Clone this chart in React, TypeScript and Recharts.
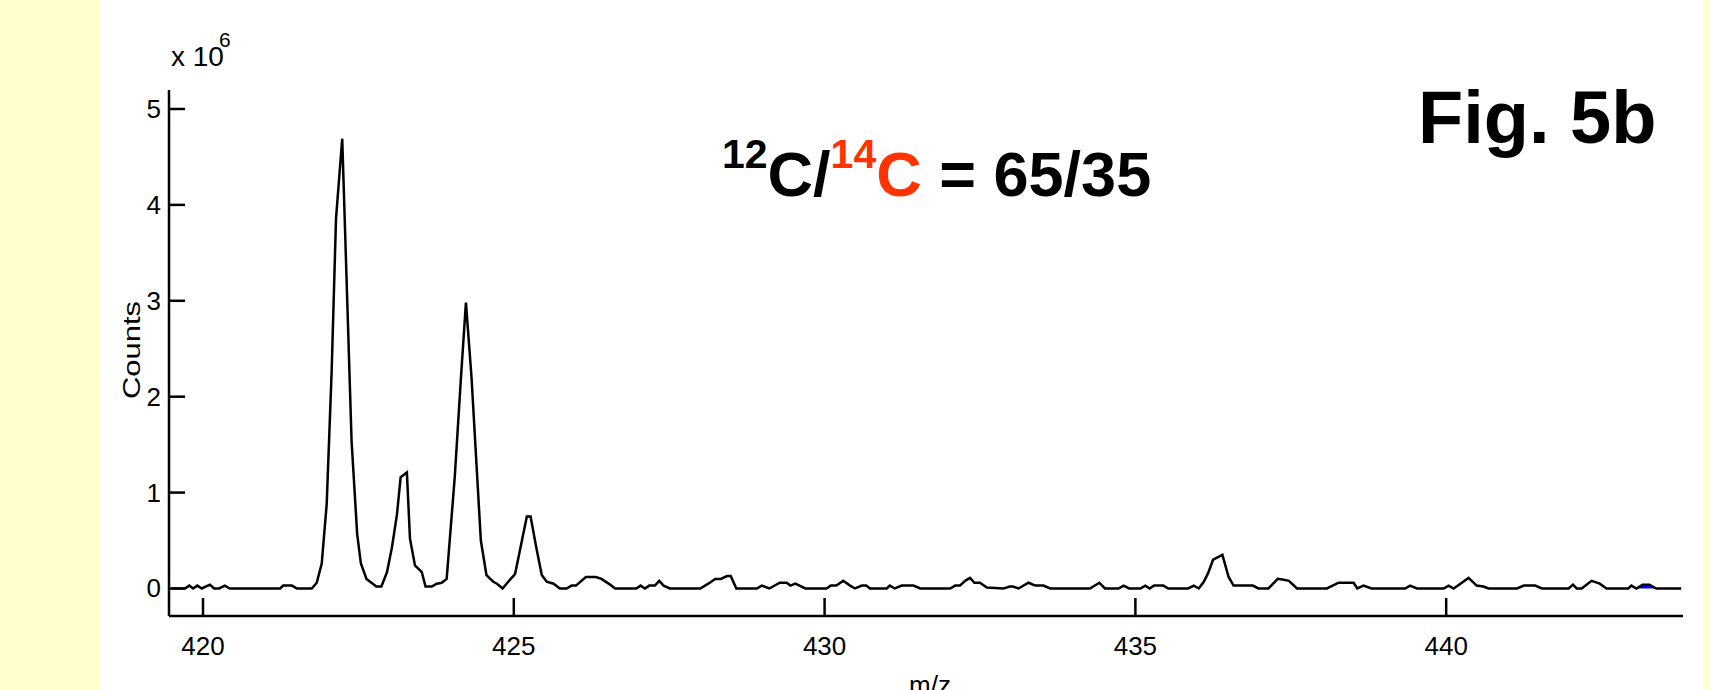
import { ComposedChart, Line, Area, XAxis, YAxis } from "recharts";

// m/z positions of the trace vertices
const mz = [
  419.5, 419.71, 419.78, 419.84, 419.91, 419.98, 420.11, 420.18, 420.26, 420.35, 420.43,
  421.24, 421.29, 421.43, 421.51, 421.75, 421.83, 421.91, 421.99, 422.07, 422.14, 422.24,
  422.39, 422.48, 422.54, 422.63, 422.79, 422.87, 422.96, 423.04, 423.12, 423.18, 423.28,
  423.33, 423.41, 423.52, 423.58, 423.68, 423.76, 423.84, 423.92, 424.05, 424.15, 424.23,
  424.32, 424.47, 424.56, 424.67, 424.73, 424.82, 424.91, 425.02, 425.1, 425.21, 425.27,
  425.37, 425.45, 425.53, 425.64, 425.74, 425.85, 425.93, 426.0, 426.16, 426.32, 426.41,
  426.55, 426.63, 426.97, 427.04, 427.11, 427.18, 427.27, 427.34, 427.41, 427.51, 428.0,
  428.13, 428.24, 428.33, 428.43, 428.49, 428.58, 428.91, 428.99, 429.11, 429.28, 429.39,
  429.45, 429.53, 429.69, 430.03, 430.1, 430.19, 430.3, 430.41, 430.49, 430.6, 430.67,
  430.73, 431.0, 431.05, 431.13, 431.24, 431.43, 431.54, 432.02, 432.1, 432.18, 432.26,
  432.34, 432.41, 432.5, 432.61, 432.88, 432.98, 433.03, 433.12, 433.28, 433.39, 433.52,
  433.63, 434.27, 434.42, 434.51, 434.73, 434.81, 434.9, 435.08, 435.16, 435.23, 435.3,
  435.45, 435.53, 435.85, 435.94, 436.02, 436.1, 436.17, 436.25, 436.4, 436.5, 436.58,
  436.89, 436.98, 437.14, 437.29, 437.39, 437.47, 437.6, 438.08, 438.27, 438.51, 438.57,
  438.67, 438.8, 439.34, 439.42, 439.53, 439.96, 440.04, 440.12, 440.23, 440.36, 440.49,
  440.6, 440.68, 441.14, 441.25, 441.43, 441.54, 441.97, 442.04, 442.1, 442.18, 442.34,
  442.47, 442.58, 442.93, 442.98, 443.06, 443.16, 443.27, 443.38, 443.78,
];

// counts, x 10^6
const counts = [
  0, 0, 0.03, 0, 0.03, 0, 0.04, 0, 0, 0.03, 0,
  0, 0.03, 0.03, 0, 0, 0.06, 0.26, 0.88, 2.27, 3.86, 4.69,
  1.54, 0.57, 0.26, 0.1, 0.02, 0.02, 0.17, 0.43, 0.77, 1.16, 1.21,
  0.52, 0.24, 0.17, 0.02, 0.02, 0.05, 0.06, 0.1, 1.16, 2.2, 2.98,
  2.2, 0.5, 0.14, 0.07, 0.05, 0, 0.07, 0.15, 0.4, 0.75, 0.75,
  0.4, 0.14, 0.07, 0.05, 0, 0, 0.03, 0.03, 0.12, 0.12, 0.1,
  0.04, 0, 0, 0.03, 0, 0.03, 0.03, 0.08, 0.03, 0, 0,
  0.05, 0.1, 0.1, 0.13, 0.13, 0, 0, 0.03, 0, 0.06, 0.06,
  0.03, 0.05, 0, 0, 0.03, 0.03, 0.08, 0.03, 0, 0.03, 0.03,
  0, 0, 0.03, 0, 0.03, 0.03, 0, 0, 0.03, 0.03, 0.08,
  0.11, 0.06, 0.06, 0.01, 0, 0.02, 0.02, 0, 0.06, 0.03, 0.03,
  0, 0, 0.06, 0, 0, 0.03, 0, 0, 0.03, 0, 0.03,
  0.03, 0, 0, 0.03, 0, 0.07, 0.16, 0.3, 0.35, 0.12, 0.03,
  0.03, 0, 0, 0.1, 0.09, 0.08, 0, 0, 0.06, 0.06, 0,
  0.03, 0, 0, 0.03, 0, 0, 0.03, 0, 0.05, 0.11, 0.03,
  0.02, 0, 0, 0.03, 0.03, 0, 0, 0.04, 0, 0, 0.08,
  0.05, 0, 0, 0.03, 0, 0.04, 0.04, 0, 0,
];

// small blue trace at the right end
const blueMz = [443.06, 443.16, 443.27, 443.38];
const blueCounts = [0, 0.04, 0.04, 0];

const xTicks = [420, 425, 430, 435, 440];
const yTicks = [0, 1, 2, 3, 4, 5];

const data = mz.map((m, i) => {
  const b = blueMz.indexOf(m);
  return { mz: m, counts: counts[i], blue: b >= 0 ? blueCounts[b] : null };
});

const FONT = "'Liberation Sans', Arial, sans-serif";

function XTick({ x, y, payload }: any) {
  return (
    <g>
      <line x1={x} x2={x} y1={y} y2={y - 18} stroke="#000" strokeWidth={2.5} />
      <text x={x} y={y + 39} textAnchor="middle" fontSize={26} fontFamily={FONT} fill="#000">
        {payload.value}
      </text>
    </g>
  );
}

function YTick({ x, y, payload }: any) {
  return (
    <g>
      <line x1={x} x2={x + 16} y1={y} y2={y} stroke="#000" strokeWidth={2.5} />
      <text x={x - 8} y={y + 9} textAnchor="end" fontSize={26} fontFamily={FONT} fill="#000">
        {payload.value}
      </text>
    </g>
  );
}

export default function App() {
  return (
    <div style={{ position: "fixed", left: 0, top: 0, width: 1710, height: 690, background: "#ffffcc", overflow: "hidden" }}>
      <div style={{ position: "absolute", left: 100, top: 0, width: 1603, height: 690, background: "#fff" }} />
      <div style={{ position: "absolute", left: 0, top: 0 }}>
        <ComposedChart width={1710} height={690} data={data} margin={{ top: 90, right: 27, left: 0, bottom: 0 }}>
          <XAxis
            dataKey="mz"
            type="number"
            domain={[419.453, 443.81]}
            ticks={xTicks}
            allowDataOverflow
            height={74}
            axisLine={{ stroke: "#000", strokeWidth: 2.5 }}
            tickLine={false}
            tickSize={0}
            tickMargin={0}
            tick={<XTick />}
          />
          <YAxis
            type="number"
            domain={[-0.287, 5.198]}
            ticks={yTicks}
            allowDataOverflow
            width={169}
            axisLine={{ stroke: "#000", strokeWidth: 2.5 }}
            tickLine={false}
            tickSize={0}
            tickMargin={0}
            tick={<YTick />}
          />
          <Area
            dataKey="blue"
            type="linear"
            stroke="none"
            fill="#0000ff"
            fillOpacity={1}
            isAnimationActive={false}
          />
          <Line
            dataKey="counts"
            type="linear"
            stroke="#000"
            strokeWidth={2.5}
            dot={false}
            isAnimationActive={false}
          />
        </ComposedChart>
      </div>
      <svg width={1710} height={690} style={{ position: "absolute", left: 0, top: 0, pointerEvents: "none" }}>
        <text x={171} y={66} fontSize={28} fontFamily={FONT} fill="#000">x 10</text>
        <text x={219} y={47} fontSize={21} fontFamily={FONT} fill="#000">6</text>
        <text
          transform="translate(140, 350) rotate(-90) scale(1, 0.8)"
          textAnchor="middle"
          fontSize={31}
          fontFamily={FONT}
          fill="#000"
        >
          Counts
        </text>
        <text x={930} y={694} textAnchor="middle" fontSize={26} fontFamily={FONT} fill="#000">m/z</text>
        <text x={722} y={196} fontSize={63} fontWeight="bold" fontFamily={FONT} fill="#000">
          <tspan y={168} fontSize={41}>12</tspan>
          <tspan y={196}>C/</tspan>
          <tspan y={168} fontSize={41} fill="#ff3300">14</tspan>
          <tspan y={196} fill="#ff3300">C</tspan>
          <tspan y={196}> = 65/35</tspan>
        </text>
        <text x={1418} y={143} fontSize={74} fontWeight="bold" fontFamily={FONT} fill="#000">Fig. 5b</text>
      </svg>
    </div>
  );
}
